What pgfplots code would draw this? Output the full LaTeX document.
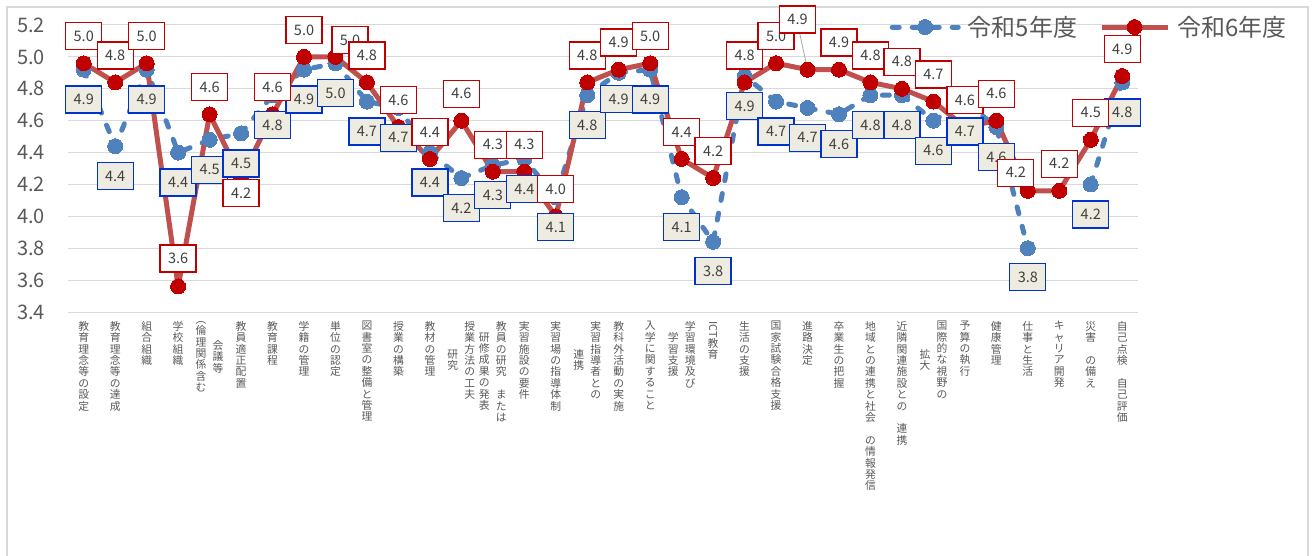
\documentclass[border=0pt]{standalone}
\usepackage{fontspec}
\setmainfont{Noto Sans CJK JP}
\usepackage{graphicx}
\usepackage{pgfplots}
\usepackage{pgfplotstable}
\pgfplotsset{compat=1.18}
\definecolor{gridc}{HTML}{D9D9D9}
\definecolor{txt}{HTML}{595959}
\definecolor{lbl}{HTML}{404040}
\definecolor{bline}{HTML}{4F81BD}
\definecolor{rline}{HTML}{C0504D}
\definecolor{rmark}{HTML}{C00000}
\definecolor{bbord}{HTML}{0033CC}
\definecolor{bfill}{HTML}{EEECE1}

\def\vtloop#1{\ifx#1\relax\else\ifx#1~\mbox{}\else\mbox{#1}\fi\par\expandafter\vtloop\fi}
\newcommand\vcol[1]{\parbox[c]{17pt}{\centering\fontsize{10.8}{11.4}\selectfont\vtloop#1\relax}}
\newcommand\vtwo[2]{\vcol{#1}\vcol{#2}}
\newcommand\ICT{\rotatebox[origin=c]{-90}{ICT}}

\pgfplotstableread{
x y dx dy
1 4.92 0 -30
2 4.44 0 -30
3 4.92 0 -30
4 4.40 0 -30
5 4.48 0 -30
6 4.52 0 -30
7 4.76 0 -30
8 4.92 0 -30
9 4.96 0 -30
10 4.72 0 -30
11 4.68 0 -30
12 4.40 0 -30
13 4.24 0 -30
14 4.32 0 -30
15 4.36 0 -30
16 4.12 0 -30
17 4.76 0 -30
18 4.90 0 -26
19 4.92 0 -30
20 4.12 0 -30
21 3.84 0 -29
22 4.88 0 -30
23 4.72 0 -30
24 4.68 0 -30
25 4.64 0 -30
26 4.76 0 -30
27 4.76 0 -30
28 4.60 0 -30
29 4.72 0 -30
30 4.56 0 -30
31 3.80 0 -29
32 nan 0 -30
33 4.20 0 -30
34 4.84 0 -30
}\rfive

\pgfplotstableread{
x y dx dy
1 4.96 0 27
2 4.84 0 27
3 4.96 0 27
4 3.56 0 28
5 4.64 0 27
6 4.24 0 -15
7 4.64 0 27
8 5.00 0 27
9 5.00 14.5 17
10 4.84 0 27
11 4.56 0 27
12 4.36 0 27
13 4.60 0 27
14 4.28 0 27
15 4.28 0 27
16 4.00 0 27
17 4.84 0 27
18 4.92 0 27
19 4.96 0 27
20 4.36 0 27
21 4.24 0 27
22 4.84 0 27
23 4.96 0 27
24 4.92 -10 50
25 4.92 0 27
26 4.84 0 27
27 4.80 0 27
28 4.72 0 27
29 4.56 0 27
30 4.60 0 27
31 4.16 -12 18
32 4.16 0 27
33 4.48 0 27
34 4.88 0 27
}\rsix

\begin{document}
\begin{tikzpicture}
\useasboundingbox (0,0) rectangle (1316pt,555pt);
\draw[gridc, line width=1.5pt] (7pt,-10pt) -- (7pt,548pt) -- (1308pt,548pt) -- (1308pt,-10pt);
\begin{axis}[
  at={(68pt,243pt)}, anchor=south west,
  width=1070pt, height=287pt, scale only axis,
  xmin=0.5, xmax=34.5, ymin=3.4, ymax=5.2,
  ytick={3.4,3.6,3.8,4.0,4.2,4.4,4.6,4.8,5.0,5.2},
  xtick={1,...,34},
  xticklabels={
    \vcol{教育理念等の設定},
    \vcol{教育理念等の達成},
    \vcol{組合組織},
    \vcol{学校組織},
    \vtwo{︵倫理関係含む}{会議等},
    \vcol{教員適正配置},
    \vcol{教育課程},
    \vcol{学籍の管理},
    \vcol{単位の認定},
    \vcol{図書室の整備と管理},
    \vcol{授業の構築},
    \vcol{教材の管理},
    \vtwo{研究}{授業方法の工夫},
    \vtwo{研修成果の発表}{教員の研究~または},
    \vcol{実習施設の要件},
    \vcol{実習場の指導体制},
    \vtwo{連携}{実習指導者との},
    \vcol{教科外活動の実施},
    \vcol{入学に関すること},
    \vtwo{学習支援}{学習環境及び},
    \vcol{\ICT 教育},
    \vcol{生活の支援},
    \vcol{国家試験合格支援},
    \vcol{進路決定},
    \vcol{卒業生の把握},
    \vcol{地域との連携と社会~の情報発信},
    \vcol{近隣関連施設との~連携},
    \vtwo{拡大}{国際的な視野の},
    \vcol{予算の執行},
    \vcol{健康管理},
    \vcol{仕事と生活},
    \vcol{キャリア開発},
    \vcol{災害~の備え},
    \vcol{自己点検~自己評価}},
  axis line style={draw=none},
  major tick length=0pt,
  ymajorgrids, grid style={gridc, line width=1pt},
  /pgf/number format/assume math mode=true,
  yticklabel style={/pgf/number format/.cd, fixed, fixed zerofill, precision=1, /tikz/.cd,
     font=\fontsize{20}{24}\selectfont, text=txt, inner sep=0pt, xshift=-23pt},
  xticklabel style={anchor=north, inner sep=0pt, yshift=-9pt, text=txt},
  clip=false,
  unbounded coords=jump,
  legend columns=2,
  legend style={at={(0.765,0.993)}, anchor=west, draw=none, fill=none,
     font=\fontsize{24}{28}\selectfont, text=txt,
     /tikz/every odd column/.append style={column sep=5pt},
     /tikz/every even column/.append style={column sep=20pt}},
  legend image code/.code={\draw[mark repeat=2,mark phase=2,#1] plot coordinates {(0pt,0pt)(33pt,0pt)(66pt,0pt)};},
]
\addplot[bline, line width=5pt, dash pattern=on 7pt off 13pt, line cap=round,
   mark=*, mark size=7.5pt, mark options={solid, fill=bline, draw=bline, line width=0pt}]
   table[x=x,y=y]{\rfive};
\addlegendentry{令和5年度}
\addplot[rline, line width=5pt, line join=round,
   mark=*, mark size=7.5pt, mark options={fill=rmark, draw=rmark, line width=0pt}]
   table[x=x,y=y]{\rsix};
\addlegendentry{令和6年度}

\draw[gray!70, line width=0.8pt] (axis cs:24,4.92) -- ++(-8pt,37pt);

\addplot[draw=none, forget plot, point meta=y,
   nodes near coords={\pgfmathprintnumber[fixed,fixed zerofill,precision=1]{\pgfplotspointmeta}},
   visualization depends on={\thisrow{dx}\as\ldx},
   visualization depends on={\thisrow{dy}\as\ldy},
   every node near coord/.append style={anchor=center, xshift=\ldx pt, yshift=\ldy pt,
      draw=bbord, fill=bfill, line width=1.3pt, minimum width=36pt, minimum height=27pt,
      inner sep=0pt, text=lbl, font=\fontsize{14.5}{16}\selectfont}]
   table[x=x,y=y]{\rfive};
\addplot[draw=none, forget plot, point meta=y,
   nodes near coords={\pgfmathprintnumber[fixed,fixed zerofill,precision=1]{\pgfplotspointmeta}},
   visualization depends on={\thisrow{dx}\as\ldx},
   visualization depends on={\thisrow{dy}\as\ldy},
   every node near coord/.append style={anchor=center, xshift=\ldx pt, yshift=\ldy pt,
      draw=rmark, fill=white, line width=1.3pt, minimum width=36pt, minimum height=27pt,
      inner sep=0pt, text=lbl, font=\fontsize{14.5}{16}\selectfont}]
   table[x=x,y=y]{\rsix};
\end{axis}
\end{tikzpicture}
\end{document}
